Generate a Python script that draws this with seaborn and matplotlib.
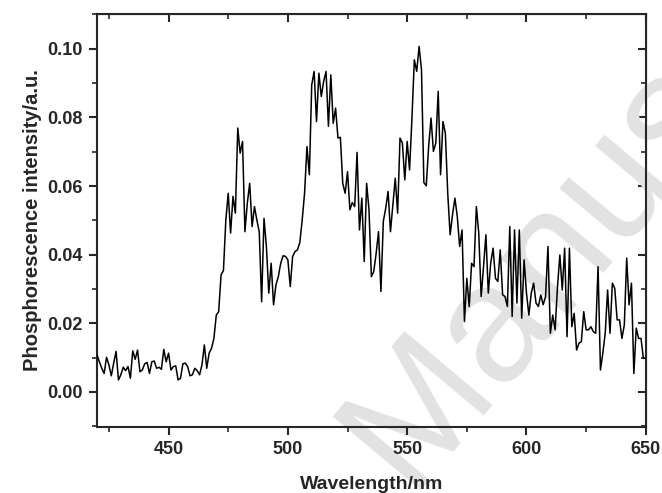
import numpy as np
import pandas as pd
import matplotlib
matplotlib.use("Agg")
import matplotlib.pyplot as plt
import seaborn as sns
from matplotlib.ticker import MultipleLocator

wavelength = np.arange(420, 651)
intensity = [
    0.0108, 0.0088, 0.0069, 0.0054, 0.0101, 0.0079, 0.0047, 0.0084, 0.0118, 0.0035,
    0.0050, 0.0072, 0.0062, 0.0074, 0.0040, 0.0120, 0.0095, 0.0122, 0.0059, 0.0064,
    0.0082, 0.0086, 0.0054, 0.0088, 0.0090, 0.0069, 0.0072, 0.0066, 0.0124, 0.0088,
    0.0113, 0.0064, 0.0074, 0.0076, 0.0035, 0.0040, 0.0082, 0.0084, 0.0074, 0.0047,
    0.0050, 0.0069, 0.0062, 0.0050, 0.0079, 0.0137, 0.0069, 0.0113, 0.0127, 0.0156,
    0.0224, 0.0234, 0.0341, 0.0354, 0.0501, 0.0579, 0.0463, 0.0570, 0.0521, 0.0769,
    0.0696, 0.0730, 0.0467, 0.0550, 0.0608, 0.0482, 0.0540, 0.0501, 0.0467, 0.0263,
    0.0506, 0.0424, 0.0288, 0.0375, 0.0254, 0.0312, 0.0336, 0.0375, 0.0397, 0.0395,
    0.0385, 0.0307, 0.0395, 0.0409, 0.0414, 0.0435, 0.0501, 0.0579, 0.0715, 0.0633,
    0.0895, 0.0934, 0.0788, 0.0929, 0.0861, 0.0905, 0.0934, 0.0774, 0.0924, 0.0783,
    0.0827, 0.0740, 0.0742, 0.0608, 0.0579, 0.0642, 0.0531, 0.0552, 0.0540, 0.0698,
    0.0472, 0.0565, 0.0380, 0.0608, 0.0531, 0.0336, 0.0351, 0.0404, 0.0467, 0.0293,
    0.0497, 0.0535, 0.0584, 0.0467, 0.0545, 0.0623, 0.0521, 0.0740, 0.0725, 0.0618,
    0.0730, 0.0647, 0.0798, 0.0968, 0.0934, 0.1007, 0.0939, 0.0610, 0.0601, 0.0715,
    0.0798, 0.0701, 0.0725, 0.0876, 0.0633, 0.0788, 0.0754, 0.0579, 0.0458, 0.0516,
    0.0565, 0.0511, 0.0424, 0.0472, 0.0205, 0.0331, 0.0249, 0.0375, 0.0365, 0.0540,
    0.0463, 0.0278, 0.0365, 0.0458, 0.0288, 0.0375, 0.0419, 0.0331, 0.0322, 0.0414,
    0.0283, 0.0278, 0.0249, 0.0482, 0.0220, 0.0472, 0.0259, 0.0472, 0.0215, 0.0385,
    0.0288, 0.0224, 0.0288, 0.0317, 0.0259, 0.0249, 0.0283, 0.0254, 0.0278, 0.0424,
    0.0171, 0.0224, 0.0181, 0.0307, 0.0399, 0.0297, 0.0419, 0.0161, 0.0419, 0.0190,
    0.0229, 0.0122, 0.0142, 0.0147, 0.0234, 0.0181, 0.0181, 0.0190, 0.0176, 0.0171,
    0.0365, 0.0064, 0.0113, 0.0171, 0.0297, 0.0171, 0.0317, 0.0302, 0.0210, 0.0210,
    0.0156, 0.0195, 0.0390, 0.0254, 0.0317, 0.0054, 0.0186, 0.0156, 0.0156, 0.0098,
    0.0098,
]
x_ticks = [450, 500, 550, 600, 650]
y_ticks = [0.00, 0.02, 0.04, 0.06, 0.08, 0.10]

df = pd.DataFrame({"wl": wavelength, "I": intensity})

sns.set_style("ticks")
plt.rcParams['font.family'] = ['Liberation Sans', 'DejaVu Sans']

fig = plt.figure(figsize=(6.62, 4.93), dpi=100)
ax = fig.add_axes([0.1465, 0.134, 0.829, 0.838])

# Marca d'água (cortada pela borda da figura)
wm = ax.text(0.615, 0.005, "Manuscript", transform=fig.transFigure, rotation=50,
             rotation_mode='anchor', fontsize=120, color='#e2e2e2',
             ha='left', va='baseline', zorder=0.5)
wm.set_clip_path(fig.patch)

sns.lineplot(data=df, x="wl", y="I", color='black', linewidth=1.1, ax=ax, zorder=3)

ax.set_xlim(420, 650)
ax.set_ylim(-0.0102, 0.1102)
ax.set_xticks(x_ticks)
ax.set_yticks(y_ticks)
ax.set_xticklabels([str(v) for v in x_ticks], fontweight='bold')
ax.set_yticklabels([f"{v:.2f}" for v in y_ticks], fontweight='bold')
ax.xaxis.set_minor_locator(MultipleLocator(25))
ax.yaxis.set_minor_locator(MultipleLocator(0.01))
ax.tick_params(which='major', direction='out', length=6, width=1.5, labelsize=13, pad=4)
ax.tick_params(which='minor', direction='out', length=3.5, width=1.2)
for s in ax.spines.values():
    s.set_visible(True)
    s.set_linewidth(1.5)

# Eixos espelhados (marcas para dentro)
top = ax.secondary_xaxis('top')
top.set_xticks(x_ticks)
top.xaxis.set_minor_locator(MultipleLocator(25))
top.tick_params(which='major', direction='in', length=6, width=1.5, labeltop=False)
top.tick_params(which='minor', direction='in', length=3.5, width=1.2)
right = ax.secondary_yaxis('right')
right.set_yticks(y_ticks)
right.yaxis.set_minor_locator(MultipleLocator(0.01))
right.tick_params(which='major', direction='in', length=6, width=1.5, labelright=False)
right.tick_params(which='minor', direction='in', length=3.5, width=1.2)

ax.set_xlabel("Wavelength/nm", fontsize=14, fontweight='bold', labelpad=13)
ax.set_ylabel("Phosphorescence intensity/a.u.", fontsize=14.5, fontweight='bold', labelpad=4)

fig.savefig("out.png", dpi=100)
